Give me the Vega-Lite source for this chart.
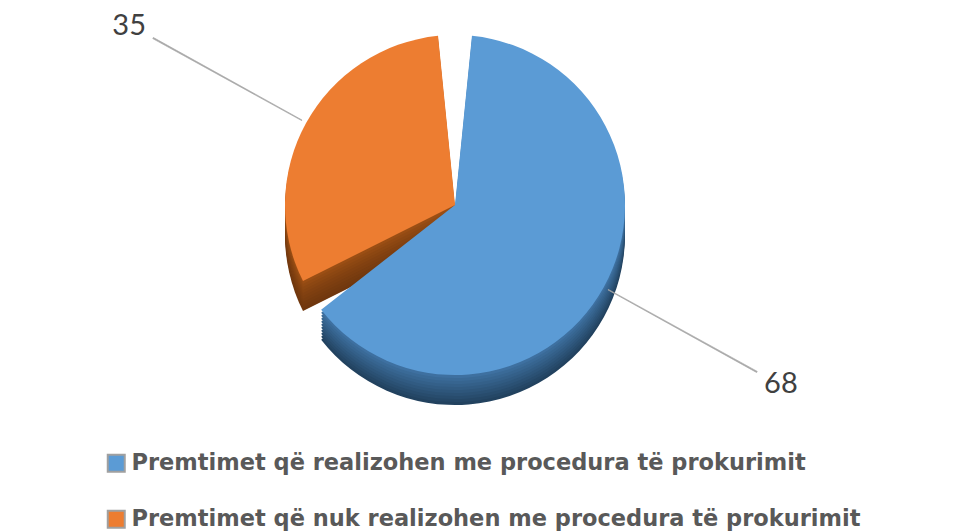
{
  "$schema": "https://vega.github.io/schema/vega-lite/v6.json",
  "width": 910,
  "height": 410,
  "autosize": {"type": "none"},
  "padding": {"left": 0, "top": 0, "right": 63, "bottom": 121},
  "background": "white",
  "config": {"view": {"stroke": null}},
  "data": {
    "values": [
      {"cat": "Premtimet që realizohen me procedura të prokurimit", "value": 68, "order": 1},
      {"cat": "Premtimet që nuk realizohen me procedura të prokurimit", "value": 35, "order": 2}
    ]
  },
  "transform": [
    {"window": [{"op": "sum", "field": "value", "as": "cum"}], "sort": [{"field": "order"}]},
    {"calculate": "datum.cum - datum.value / 2", "as": "mid"},
    {"calculate": "datum.cum - datum.value / 2 + 0.06", "as": "mid2"}
  ],
  "layer": [
    {"mark": {"type": "arc", "radius": 170, "padAngle": 0.2, "yOffset": 30},
      "encoding": {"theta": {"field": "value", "type": "quantitative", "stack": true}, "order": {"field": "order"},
        "color": {"condition": {"test": "datum.order == 1", "value": "#22425f"}, "value": "#70370e"}}},
    {"mark": {"type": "arc", "radius": 170, "padAngle": 0.2, "yOffset": 27},
      "encoding": {"theta": {"field": "value", "type": "quantitative", "stack": true}, "order": {"field": "order"},
        "color": {"condition": {"test": "datum.order == 1", "value": "#254766"}, "value": "#73390f"}}},
    {"mark": {"type": "arc", "radius": 170, "padAngle": 0.2, "yOffset": 24},
      "encoding": {"theta": {"field": "value", "type": "quantitative", "stack": true}, "order": {"field": "order"},
        "color": {"condition": {"test": "datum.order == 1", "value": "#284c6d"}, "value": "#763b0f"}}},
    {"mark": {"type": "arc", "radius": 170, "padAngle": 0.2, "yOffset": 21},
      "encoding": {"theta": {"field": "value", "type": "quantitative", "stack": true}, "order": {"field": "order"},
        "color": {"condition": {"test": "datum.order == 1", "value": "#2b5174"}, "value": "#7a3d10"}}},
    {"mark": {"type": "arc", "radius": 170, "padAngle": 0.2, "yOffset": 18},
      "encoding": {"theta": {"field": "value", "type": "quantitative", "stack": true}, "order": {"field": "order"},
        "color": {"condition": {"test": "datum.order == 1", "value": "#2e567b"}, "value": "#7e3f10"}}},
    {"mark": {"type": "arc", "radius": 170, "padAngle": 0.2, "yOffset": 15},
      "encoding": {"theta": {"field": "value", "type": "quantitative", "stack": true}, "order": {"field": "order"},
        "color": {"condition": {"test": "datum.order == 1", "value": "#315b82"}, "value": "#824111"}}},
    {"mark": {"type": "arc", "radius": 170, "padAngle": 0.2, "yOffset": 12},
      "encoding": {"theta": {"field": "value", "type": "quantitative", "stack": true}, "order": {"field": "order"},
        "color": {"condition": {"test": "datum.order == 1", "value": "#346089"}, "value": "#874411"}}},
    {"mark": {"type": "arc", "radius": 170, "padAngle": 0.2, "yOffset": 9},
      "encoding": {"theta": {"field": "value", "type": "quantitative", "stack": true}, "order": {"field": "order"},
        "color": {"condition": {"test": "datum.order == 1", "value": "#376590"}, "value": "#8c4712"}}},
    {"mark": {"type": "arc", "radius": 170, "padAngle": 0.2, "yOffset": 6},
      "encoding": {"theta": {"field": "value", "type": "quantitative", "stack": true}, "order": {"field": "order"},
        "color": {"condition": {"test": "datum.order == 1", "value": "#3a6a97"}, "value": "#924a13"}}},
    {"mark": {"type": "arc", "radius": 170, "padAngle": 0.2, "yOffset": 3},
      "encoding": {"theta": {"field": "value", "type": "quantitative", "stack": true}, "order": {"field": "order"},
        "color": {"condition": {"test": "datum.order == 1", "value": "#3e70a0"}, "value": "#9a4e14"}}},
    {
      "mark": {"type": "arc", "radius": 170, "padAngle": 0.2},
      "encoding": {
        "theta": {"field": "value", "type": "quantitative", "stack": true},
        "order": {"field": "order"},
        "color": {
          "field": "cat",
          "type": "nominal",
          "scale": {
            "domain": [
              "Premtimet që realizohen me procedura të prokurimit",
              "Premtimet që nuk realizohen me procedura të prokurimit"
            ],
            "range": ["#5b9bd5", "#ed7d31"]
          },
          "legend": {
            "orient": "none",
            "legendX": 105,
            "legendY": 452,
            "title": null,
            "labelFont": "DejaVu Sans",
            "labelFontWeight": "bold",
            "labelFontSize": 22.5,
            "labelColor": "#595959",
            "labelLimit": 900,
            "labelOffset": 4,
            "symbolType": "square",
            "symbolSize": 289,
            "symbolStrokeColor": "#a0a0a0",
            "symbolStrokeWidth": 2,
            "rowPadding": 30
          }
        }
      }
    },
    {
      "mark": {"type": "arc", "radius": 345, "radius2": 175, "color": "#a6a6a6", "stroke": "#a6a6a6", "strokeWidth": 0.7},
      "encoding": {
        "theta": {"field": "mid", "type": "quantitative", "stack": null},
        "theta2": {"field": "mid2"}
      }
    },
    {
      "mark": {"type": "text", "radius": 372, "font": "Lato", "fontSize": 29, "color": "#404040"},
      "encoding": {
        "theta": {"field": "mid", "type": "quantitative", "stack": null},
        "text": {"field": "value", "type": "quantitative"}
      }
    }
  ]
}
